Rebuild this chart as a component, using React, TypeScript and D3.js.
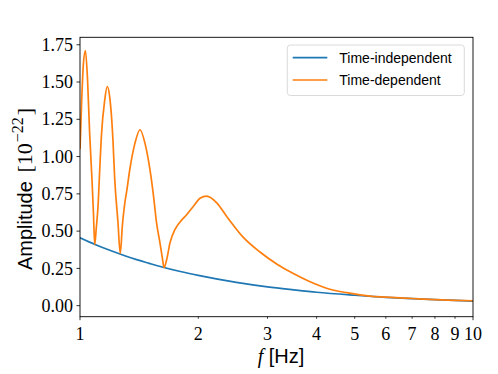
import React from "react";
import * as d3 from "d3";

// frequencies (Hz) and amplitudes (1e-22)
const indepFreq = [1, 1.1, 1.2, 1.3, 1.4, 1.5, 1.6, 1.8, 2, 2.5, 3, 3.5, 4, 5, 6, 7, 8, 9, 10];
const indepAmp = [0.455, 0.407, 0.368, 0.335, 0.307, 0.284, 0.263, 0.229, 0.203, 0.156, 0.126, 0.106, 0.09, 0.07, 0.056, 0.047, 0.04, 0.035, 0.031];

const depFreq = [
  1.0, 1.01, 1.02, 1.032, 1.045, 1.058, 1.073, 1.082, 1.09, 1.1, 1.111, 1.122, 1.133, 1.156, 1.173, 1.19,
  1.213, 1.225, 1.249, 1.266, 1.282, 1.299, 1.315, 1.34, 1.38, 1.421, 1.463, 1.507, 1.536, 1.567, 1.598,
  1.62, 1.636, 1.662, 1.694, 1.744, 1.796, 1.868, 1.942, 2.02, 2.1, 2.228, 2.36, 2.6, 2.87, 3.165, 3.49,
  3.85, 4.24, 4.77, 5.47, 6, 7, 8, 9, 10,
];
const depAmp = [
  1.05, 1.38, 1.62, 1.71, 1.52, 1.16, 0.84, 0.62, 0.41, 0.52, 0.66, 0.9, 1.13, 1.38, 1.47, 1.4,
  1.11, 0.86, 0.56, 0.35, 0.54, 0.68, 0.77, 0.92, 1.09, 1.18, 1.09, 0.91, 0.75, 0.55, 0.42,
  0.32, 0.256, 0.31, 0.42, 0.51, 0.56, 0.61, 0.665, 0.72, 0.735, 0.69, 0.6, 0.46, 0.36, 0.28, 0.215,
  0.16, 0.117, 0.087, 0.064, 0.057, 0.048, 0.041, 0.036, 0.033,
];

const yTicks = [0, 0.25, 0.5, 0.75, 1.0, 1.25, 1.5, 1.75];
const xTicks = [1, 2, 3, 4, 5, 6, 7, 8, 9, 10];
const seriesNames = ["Time-independent", "Time-dependent"];
const colors = ["#1f77b4", "#ff7f0e"];

const W = 498;
const H = 374;
const plot = { left: 80, right: 473, top: 37.3, bottom: 316.7 };

const serif = "'Liberation Serif', 'DejaVu Serif', serif";
const sans = "'Liberation Sans', 'DejaVu Sans', sans-serif";

export default function App() {
  const x = d3.scaleLog().domain([1, 10]).range([plot.left, plot.right]);
  const y = d3.scaleLinear().domain([-0.074, 1.8]).range([plot.bottom, plot.top]);

  const line = d3
    .line<[number, number]>()
    .x((d) => x(d[0]))
    .y((d) => y(d[1]))
    .curve(d3.curveMonotoneX);

  const series = [
    indepFreq.map((f, i) => [f, indepAmp[i]] as [number, number]),
    depFreq.map((f, i) => [f, depAmp[i]] as [number, number]),
  ];

  return (
    <div style={{ position: "absolute", left: 0, top: 0 }}>
      <svg width={W} height={H} style={{ display: "block", background: "#fff" }}>
        <defs>
          <clipPath id="plotArea">
            <rect x={plot.left} y={plot.top} width={plot.right - plot.left} height={plot.bottom - plot.top} />
          </clipPath>
        </defs>

        <g clipPath="url(#plotArea)">
          {series.map((s, i) => (
            <path key={i} d={line(s) || ""} fill="none" stroke={colors[i]} strokeWidth={1.7} strokeLinejoin="round" />
          ))}
        </g>

        {/* frame */}
        <rect
          x={plot.left}
          y={plot.top}
          width={plot.right - plot.left}
          height={plot.bottom - plot.top}
          fill="none"
          stroke="#000"
          strokeWidth={0.9}
        />

        {/* y axis */}
        {yTicks.map((t) => (
          <g key={t}>
            <line x1={plot.left - 3.5} x2={plot.left} y1={y(t)} y2={y(t)} stroke="#000" strokeWidth={0.8} />
            <text x={plot.left - 7} y={y(t)} dy="0.34em" textAnchor="end" fontFamily={serif} fontSize={18}>
              {t.toFixed(2)}
            </text>
          </g>
        ))}

        {/* x axis (log) */}
        {xTicks.map((t) => {
          const major = t === 1 || t === 10;
          return (
            <g key={t}>
              <line
                x1={x(t)}
                x2={x(t)}
                y1={plot.bottom}
                y2={plot.bottom + (major ? 3.5 : 2)}
                stroke="#000"
                strokeWidth={0.8}
              />
              <text x={x(t)} y={plot.bottom + 23} textAnchor="middle" fontFamily={serif} fontSize={18}>
                {t}
              </text>
            </g>
          );
        })}

        {/* axis labels */}
        <text x={281} y={363} textAnchor="middle" fontSize={20}>
          <tspan fontFamily={serif} fontStyle="italic">f</tspan>
          <tspan fontFamily={sans}> [Hz]</tspan>
        </text>
        <text transform="translate(32,189) rotate(-90)" textAnchor="middle" fontSize={20}>
          <tspan fontFamily={sans}>Amplitude </tspan>
          <tspan fontFamily={serif} fontSize={22} dx={3}>[10</tspan>
          <tspan fontFamily={serif} fontSize={16} dy={-9} dx={1}>
            −22
          </tspan>
          <tspan fontFamily={serif} fontSize={22} dy={9} dx={2}>
            ]
          </tspan>
        </text>

        {/* legend */}
        <rect x={287.3} y={45} width={177} height={50.5} rx={3} fill="#fff" fillOpacity={0.8} stroke="#d0d0d0" strokeWidth={0.8} />
        {seriesNames.map((name, i) => (
          <g key={name}>
            <line x1={292.7} x2={327.3} y1={57.7 + i * 22.3} y2={57.7 + i * 22.3} stroke={colors[i]} strokeWidth={1.7} />
            <text x={339.3} y={57.7 + i * 22.3} dy="0.35em" fontFamily={sans} fontSize={14}>
              {name}
            </text>
          </g>
        ))}
      </svg>
    </div>
  );
}
